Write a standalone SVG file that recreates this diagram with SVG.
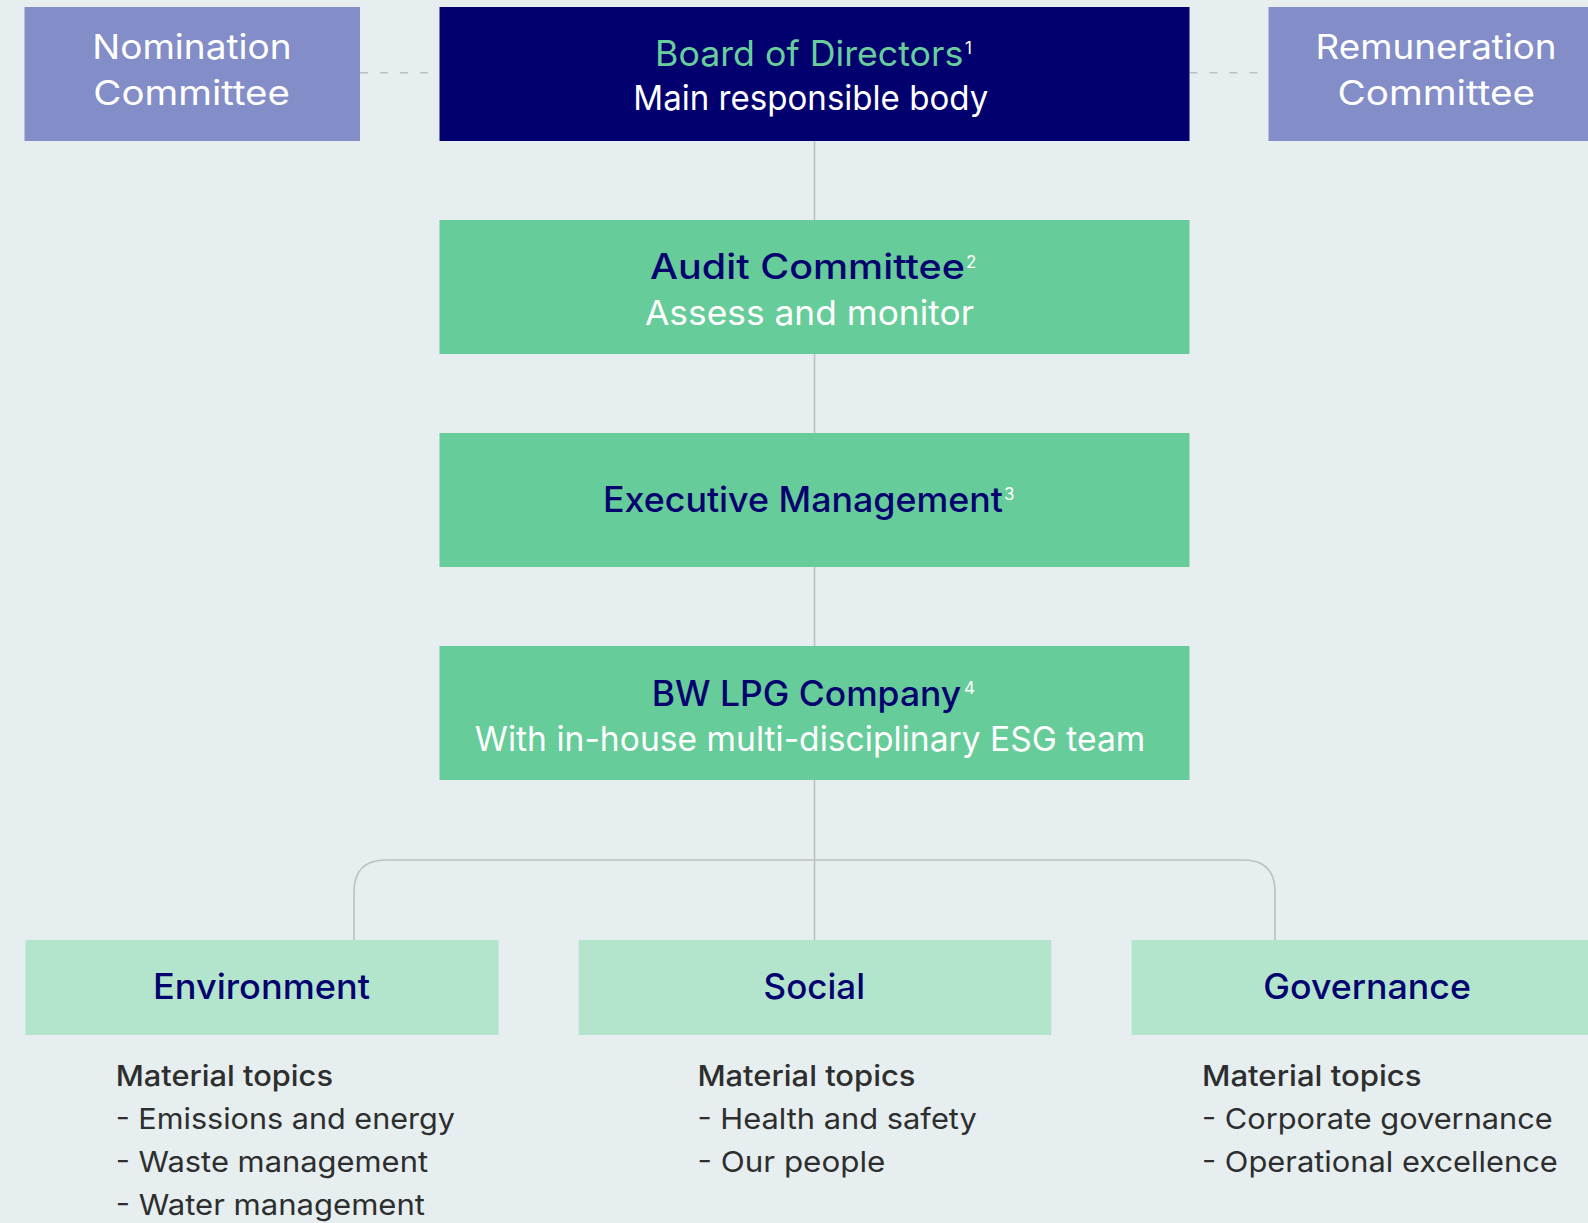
<svg xmlns="http://www.w3.org/2000/svg" width="1588" height="1223" viewBox="0 0 1588 1223">
<style>
.t{font-family:Inter,"Open Sans","Liberation Sans",sans-serif}
.w{fill:#ffffff}
.nv{fill:#03036F}
.gr{fill:#68CF9C}
.hd{font-size:35px;font-weight:500}
.sb{font-size:34px;font-weight:400}
.sup{font-size:17px;font-weight:400;fill:#ffffff}
.lst{font-size:29px;fill:#2E2E2E}
.lh{font-weight:500}
.conn{fill:none;stroke:#BDBFC0;stroke-width:1.6}
.dash{fill:none;stroke:#BDBFC0;stroke-width:1.6;stroke-dasharray:8 12}
.cm{fill:#838DC8}
.bd{fill:#02006E}
.gb{fill:#66CC99}
.lg{fill:#B3E5CD}
</style>
<rect x="0" y="0" width="1588" height="1223" fill="#E6EEF0"/>
<g id="connectors">
<path class="dash" d="M360 72.7H439.5M1189.5 72.7H1268.5"/>
<path class="conn" d="M814.5 141V220M814.5 354V433M814.5 567V646M814.5 780V940"/>
<path class="conn" d="M354 940V892Q354 860 386 860H1243Q1275 860 1275 892V940"/>
</g>
<g id="nomination">
<rect class="cm" x="24.5" y="7" width="335.5" height="134"/>
<text class="t w sb" x="92.3" y="59.3" textLength="199.4" lengthAdjust="spacingAndGlyphs">Nomination</text>
<text class="t w sb" x="93.3" y="105" textLength="196.7" lengthAdjust="spacingAndGlyphs">Committee</text>
</g>
<g id="board">
<rect class="bd" x="439.5" y="7" width="750" height="134"/>
<text class="t gr hd" x="655" y="65.7" textLength="308.3" lengthAdjust="spacingAndGlyphs" style="font-weight:400">Board of Directors</text>
<text class="t sup" x="965" y="54.3">1</text>
<text class="t w sb" x="633.3" y="110" textLength="355" lengthAdjust="spacingAndGlyphs">Main responsible body</text>
</g>
<g id="remuneration">
<rect class="cm" x="1268.5" y="7" width="335.5" height="134"/>
<text class="t w sb" x="1315.6" y="59.3" textLength="241" lengthAdjust="spacingAndGlyphs">Remuneration</text>
<text class="t w sb" x="1337.5" y="105" textLength="197.5" lengthAdjust="spacingAndGlyphs">Committee</text>
</g>
<g id="audit">
<rect class="gb" x="439.5" y="220" width="750" height="134"/>
<text class="t nv hd" x="650" y="279" textLength="315" lengthAdjust="spacingAndGlyphs">Audit Committee</text>
<text class="t sup" x="966" y="267.5">2</text>
<text class="t w sb" x="645" y="325" textLength="329" lengthAdjust="spacingAndGlyphs">Assess and monitor</text>
</g>
<g id="executive">
<rect class="gb" x="439.5" y="433" width="750" height="134"/>
<text class="t nv hd" x="603" y="511.7" textLength="400" lengthAdjust="spacingAndGlyphs">Executive Management</text>
<text class="t sup" x="1004" y="500.2">3</text>
</g>
<g id="company">
<rect class="gb" x="439.5" y="646" width="750" height="134"/>
<text class="t nv hd" x="651.7" y="705.7" textLength="309.5" lengthAdjust="spacingAndGlyphs">BW LPG Company</text>
<text class="t sup" x="964" y="694.2">4</text>
<text class="t w sb" x="474.8" y="750.7" textLength="670.5" lengthAdjust="spacingAndGlyphs">With in-house multi-disciplinary ESG team</text>
</g>
<g id="environment">
<rect class="lg" x="25.5" y="940" width="473" height="95"/>
<text class="t nv hd" x="153" y="999" textLength="217" lengthAdjust="spacingAndGlyphs">Environment</text>
<text class="t lst lh" x="115.7" y="1085.7" textLength="217.3" lengthAdjust="spacingAndGlyphs">Material topics</text>
<text class="t lst" x="115.7" y="1129.3" textLength="339.3" lengthAdjust="spacingAndGlyphs">- Emissions and energy</text>
<text class="t lst" x="115.7" y="1171.7" textLength="312.3" lengthAdjust="spacingAndGlyphs">- Waste management</text>
<text class="t lst" x="115.7" y="1215" textLength="309.3" lengthAdjust="spacingAndGlyphs">- Water management</text>
</g>
<g id="social">
<rect class="lg" x="578.7" y="940" width="472.5" height="95"/>
<text class="t nv hd" x="763.6" y="999" textLength="101.4" lengthAdjust="spacingAndGlyphs">Social</text>
<text class="t lst lh" x="697.4" y="1085.7" textLength="218" lengthAdjust="spacingAndGlyphs">Material topics</text>
<text class="t lst" x="697.4" y="1129.3" textLength="279.5" lengthAdjust="spacingAndGlyphs">- Health and safety</text>
<text class="t lst" x="697.4" y="1171.7" textLength="188" lengthAdjust="spacingAndGlyphs">- Our people</text>
</g>
<g id="governance">
<rect class="lg" x="1131.7" y="940" width="473" height="95"/>
<text class="t nv hd" x="1263.3" y="999" textLength="207.6" lengthAdjust="spacingAndGlyphs">Governance</text>
<text class="t lst lh" x="1202" y="1085.7" textLength="219.6" lengthAdjust="spacingAndGlyphs">Material topics</text>
<text class="t lst" x="1202" y="1129.3" textLength="350.8" lengthAdjust="spacingAndGlyphs">- Corporate governance</text>
<text class="t lst" x="1202" y="1171.7" textLength="355.8" lengthAdjust="spacingAndGlyphs">- Operational excellence</text>
</g>
</svg>
